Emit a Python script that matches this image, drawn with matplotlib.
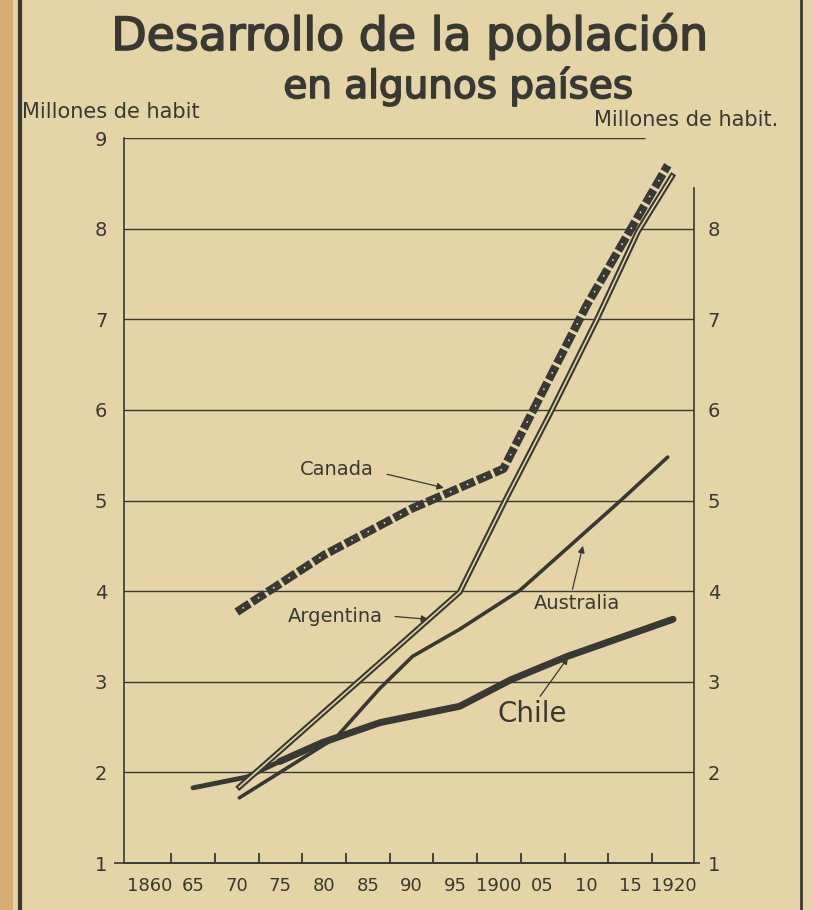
import matplotlib
matplotlib.use("Agg")
import matplotlib.pyplot as plt
import matplotlib.patheffects as pe
from matplotlib.patches import Rectangle
from matplotlib.lines import Line2D

plt.rcParams['lines.scale_dashes'] = False

# data (millions of inhabitants)
canada_years = [1870, 1880, 1890, 1900.5, 1910, 1919.3]
canada_vals = [3.77, 4.40, 4.91, 5.35, 7.15, 8.70]

argentina_years = [1870.3, 1895.5, 1900.7, 1906, 1911.2, 1915.9, 1919.8]
argentina_vals = [1.84, 3.99, 5.00, 5.99, 7.00, 7.97, 8.58]

australia_years = [1870.3, 1881.4, 1886.3, 1890.1, 1895.5, 1902.4, 1913.8, 1919.3]
australia_vals = [1.72, 2.39, 2.92, 3.28, 3.58, 4.01, 4.99, 5.48]

chile_years = [1865, 1871.2, 1874.9, 1879.8, 1886.4, 1895.5, 1901.3, 1907.8, 1919.9]
chile_vals = [1.83, 1.95, 2.12, 2.33, 2.55, 2.73, 3.02, 3.28, 3.69]

year_ticks = list(range(1860, 1921, 5))
year_labels = ['1860', '65', '70', '75', '80', '85', '90', '95', '1900', '05', '10', '15', '1920']
left_ticks = list(range(1, 10))
right_ticks = list(range(1, 9))

paper = '#e4d4a7'
ink = '#3a3832'

fig = plt.figure(figsize=(8.13, 9.10), dpi=100, facecolor=paper)
ax = fig.add_axes([0.1525, 0.0516, 0.7011, 0.7967])
ax.set_facecolor(paper)
ax.set_xlim(1857.1, 1922.3)
ax.set_ylim(1, 9)

# grid lines
for v in range(2, 9):
    ax.axhline(v, color=ink, lw=1.0, zorder=1)
ax.hlines(9, 1857.1, 1916.7, color=ink, lw=1.0, zorder=1)
ax.hlines(1, 1856.0, 1923.0, color=ink, lw=1.2, clip_on=False, zorder=1)

for s in ['top', 'right']:
    ax.spines[s].set_visible(False)
for s in ['left', 'bottom']:
    ax.spines[s].set_color(ink)
    ax.spines[s].set_linewidth(1.2)

ax.set_xticks(year_ticks)
ax.set_xticklabels(year_labels)
ax.set_xticks([y + 2.5 for y in year_ticks[:-1]], minor=True)
ax.tick_params(axis='x', which='major', length=0, pad=10, labelsize=13, colors=ink)
ax.tick_params(axis='x', which='minor', length=7, width=1.3, direction='in', colors=ink)
ax.set_yticks(left_ticks)
ax.tick_params(axis='y', length=0, pad=12, labelsize=14, colors=ink)

ax2 = ax.twinx()
ax2.set_ylim(1, 9)
ax2.set_yticks(right_ticks)
ax2.tick_params(axis='y', length=0, pad=10, labelsize=14, colors=ink)
for s in ['top', 'left', 'bottom']:
    ax2.spines[s].set_visible(False)
ax2.spines['right'].set_bounds(1, 8.45)
ax2.spines['right'].set_color(ink)
ax2.spines['right'].set_linewidth(1.2)

# Chile: heavy line, thinner at its start
ax.plot(chile_years[:3], chile_vals[:3], color=ink, lw=3.5, solid_capstyle='round', zorder=3)
ax.plot(chile_years[2:], chile_vals[2:], color=ink, lw=5, solid_capstyle='round', zorder=3)
# Australia: single line
ax.plot(australia_years, australia_vals, color=ink, lw=2.6, solid_capstyle='round', zorder=3)
# Argentina: double line
ax.plot(argentina_years, argentina_vals, color=ink, lw=4.2, zorder=4)
ax.plot(argentina_years, argentina_vals, color=paper, lw=1.2, zorder=4)
# Canada: heavy dashes with small light dots
ax.plot(canada_years, canada_vals, color=ink, lw=6, linestyle=(0, (11, 2.2)), zorder=5)
ax.plot(canada_years, canada_vals, color=paper, lw=1.2, linestyle=(8.3, (1.2, 12.0)), zorder=5)

arrow = dict(arrowstyle='-|>', color=ink, lw=0.9, mutation_scale=10, shrinkA=0, shrinkB=0)
ax.annotate('', xy=(1893.7, 5.14), xytext=(1887.2, 5.29), arrowprops=arrow)
ax.text(1881.5, 5.34, 'Canada', ha='center', va='center', fontsize=14, color=ink)
ax.annotate('', xy=(1891.9, 3.69), xytext=(1888.1, 3.72), arrowprops=arrow)
ax.text(1881.3, 3.72, 'Argentina', ha='center', va='center', fontsize=14, color=ink)
ax.annotate('', xy=(1909.6, 4.50), xytext=(1908.4, 4.02), arrowprops=arrow)
ax.text(1908.9, 3.86, 'Australia', ha='center', va='center', fontsize=14, color=ink)
ax.annotate('', xy=(1907.9, 3.27), xytext=(1904.7, 2.84), arrowprops=arrow)
ax.text(1903.8, 2.64, 'Chile', ha='center', va='center', fontsize=20, color=ink)

thick = [pe.withStroke(linewidth=1.2, foreground=ink)]
fig.text(410 / 813, 1 - 50 / 910, 'Desarrollo de la población', ha='center', va='baseline',
         fontsize=33, color=ink, path_effects=thick)
fig.text(458 / 813, 1 - 98 / 910, 'en algunos países', ha='center', va='baseline',
         fontsize=28, color=ink, path_effects=thick)
fig.text(0.027, 0.877, 'Millones de habit', ha='left', va='center', fontsize=15, color=ink)
fig.text(0.957, 0.868, 'Millones de habit.', ha='right', va='center', fontsize=15, color=ink)

# page frame
fig.add_artist(Rectangle((0, 0), 13 / 813, 1, transform=fig.transFigure,
                         facecolor='#d6ad72', edgecolor='none'))
fig.add_artist(Line2D([20 / 813, 20 / 813], [0, 1], transform=fig.transFigure, color=ink, lw=3))
fig.add_artist(Line2D([801 / 813, 801 / 813], [0, 1], transform=fig.transFigure, color=ink, lw=2))

fig.savefig('out.png', dpi=100, facecolor=paper)
